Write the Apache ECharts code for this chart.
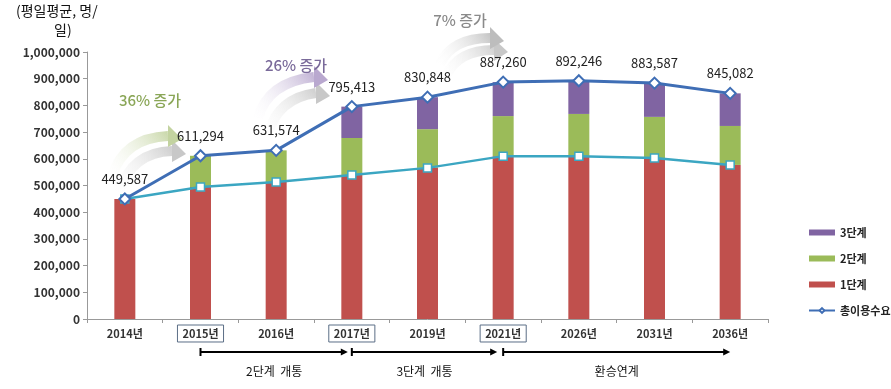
<!DOCTYPE html>
<html>
<head>
<meta charset="utf-8">
<script src="https://cdn.jsdelivr.net/npm/echarts@6/dist/echarts.min.js"></script>
<style>
  html, body { margin: 0; padding: 0; background: #fff; }
  #myChart { width: 891px; height: 389px; }
</style>
</head>
<body>
<div id="myChart"></div>
<script>
var years = ['2014년', '2015년', '2016년', '2017년', '2019년', '2021년', '2026년', '2031년', '2036년'];
var boxedYears = ['2015년', '2017년', '2021년'];
// 단계별 수요
var stage1 = [449587, 494000, 513000, 539000, 566000, 610000, 610000, 603000, 577000];
var stage2 = [0, 117294, 118574, 139000, 145000, 150000, 158000, 154000, 146000];
var stage3 = [0, 0, 0, 117413, 119848, 127260, 124246, 126587, 122082];
var totalDemand = [449587, 611294, 631574, 795413, 830848, 887260, 892246, 883587, 845082];
var yTicks = [0, 100000, 200000, 300000, 400000, 500000, 600000, 700000, 800000, 900000, 1000000];

var font = '"Noto Sans CJK KR", "Noto Sans", sans-serif';
var fmt = function (v) { return String(v).replace(/\B(?=(\d{3})+(?!\d))/g, ','); };

var myChart = echarts.init(document.getElementById('myChart'));

var option = {
    animation: false,
    textStyle: { fontFamily: font },
    grid: { left: 87, right: 123, top: 52, bottom: 70 },
    legend: {
        orient: 'vertical',
        left: 803, top: 222,
        itemWidth: 26, itemHeight: 6, itemGap: 15,
        textStyle: { fontSize: 11, color: '#222', fontWeight: 'bold', fontFamily: font },
        data: [
            { name: '3단계', icon: 'rect' },
            { name: '2단계', icon: 'rect' },
            { name: '1단계', icon: 'rect' },
            { name: '총이용수요' }
        ]
    },
    xAxis: {
        type: 'category',
        data: years,
        axisLine: { lineStyle: { color: '#999' } },
        axisTick: { show: true, length: 4, lineStyle: { color: '#999' } },
        axisLabel: {
            interval: 0,
            margin: 6,
            formatter: function (v) {
                return boxedYears.indexOf(v) >= 0 ? '{box|' + v + '}' : '{n|' + v + '}';
            },
            rich: {
                n: { fontSize: 11, fontWeight: 'bold', color: '#333', padding: [3, 5] },
                box: { fontSize: 11, fontWeight: 'bold', color: '#333', padding: [3, 5],
                       borderColor: '#5b6e86', borderWidth: 1 }
            }
        }
    },
    yAxis: {
        type: 'value',
        min: 0, max: 1000000, interval: 100000,
        splitLine: { show: false },
        axisLine: { show: true, lineStyle: { color: '#999' } },
        axisTick: { show: true, length: 4, lineStyle: { color: '#999' } },
        axisLabel: {
            fontSize: 12, fontWeight: 'bold', color: '#333', margin: 7,
            formatter: function (v) { return yTicks.indexOf(v) >= 0 ? fmt(v) : ''; }
        }
    },
    series: [
        { name: '1단계', type: 'bar', stack: 'a', barWidth: 21, data: stage1,
          itemStyle: { color: '#C0504D' } },
        { name: '2단계', type: 'bar', stack: 'a', data: stage2,
          itemStyle: { color: '#9BBB59' } },
        { name: '3단계', type: 'bar', stack: 'a', data: stage3,
          itemStyle: { color: '#8064A2' } },
        { name: '1단계수요', type: 'line', data: stage1,
          symbol: 'rect', symbolSize: 8,
          lineStyle: { color: '#3BA6C2', width: 2.5 },
          itemStyle: { color: '#fff', borderColor: '#3BA6C2', borderWidth: 1.5 }, z: 5 },
        { name: '총이용수요', type: 'line', data: totalDemand,
          symbol: 'diamond', symbolSize: 11,
          lineStyle: { color: '#3F6EB5', width: 3 },
          itemStyle: { color: '#fff', borderColor: '#3F6EB5', borderWidth: 2 },
          label: { show: true, position: 'top', distance: 7, fontSize: 13, color: '#222',
                   formatter: function (p) { return fmt(p.value); } },
          z: 6 }
    ]
};
myChart.setOption(option);

// 상승 화살표 (곡선 + 삼각형 머리)
function curvedArrow(x1, y1, cx, cy, x2, y2, tipX, tipY, color, width) {
    return [
        { type: 'bezierCurve', shape: { x1: x1, y1: y1, cpx1: cx, cpy1: cy, x2: x2, y2: y2 },
          style: { fill: null, lineWidth: width,
                   stroke: { type: 'linear', x: 0, y: 1, x2: 1, y2: 0,
                             colorStops: [{ offset: 0, color: 'rgba(255,255,255,0)' }, { offset: 1, color: color }] } } },
        { type: 'polygon', shape: { points: [[x2, y2 - 11], [tipX, tipY], [x2, y2 + 11]] },
          style: { fill: color } }
    ];
}

var g = [];
// 단위
g.push({ type: 'text', left: 16, top: 4,
         style: { text: '(평일평균, 명/', fill: '#111', font: '14px ' + font } });
g.push({ type: 'text', left: 54, top: 23,
         style: { text: '일)', fill: '#111', font: '14px ' + font } });

// 증가 표시
g = g.concat(curvedArrow(119, 192, 132, 152, 172, 151, 186, 154, '#c8c8c8', 10));
g = g.concat(curvedArrow(112, 176, 124, 138, 168, 136, 182, 139, '#c3d3a0', 10));
g.push({ type: 'text', x: 150, y: 100,
         style: { text: '36% 증가', font: '500 15px ' + font, fill: '#8AA657', align: 'center', verticalAlign: 'middle' } });

g = g.concat(curvedArrow(268, 134, 278, 98, 316, 93, 330, 96, '#c8c8c8', 10));
g = g.concat(curvedArrow(258, 118, 268, 82, 314, 77, 328, 80, '#b9a8cf', 10));
g.push({ type: 'text', x: 296, y: 65,
         style: { text: '26% 증가', font: '500 15px ' + font, fill: '#7a6a9a', align: 'center', verticalAlign: 'middle' } });

g = g.concat(curvedArrow(446, 76, 458, 50, 494, 50, 508, 52, '#c8c8c8', 10));
g = g.concat(curvedArrow(440, 64, 452, 38, 490, 38, 504, 41, '#bdbdbd', 10));
g.push({ type: 'text', x: 460, y: 20,
         style: { text: '7% 증가', font: '500 15px ' + font, fill: '#8a8a8a', align: 'center', verticalAlign: 'middle' } });

// 하단 단계 구간
var cx = function (i) { return myChart.convertToPixel({ xAxisIndex: 0 }, years[i]); };
var spans = [
    { from: cx(1), to: cx(3) - 4, text: '2단계  개통' },
    { from: cx(3), to: cx(5) - 6, text: '3단계  개통' },
    { from: cx(5), to: cx(8), text: '환승연계' }
];
var lineY = 352;
spans.forEach(function (s) {
    g.push({ type: 'line', shape: { x1: s.from, y1: lineY - 4, x2: s.from, y2: lineY + 4 },
             style: { stroke: '#000', lineWidth: 2 } });
    g.push({ type: 'line', shape: { x1: s.from, y1: lineY, x2: s.to - 5, y2: lineY },
             style: { stroke: '#000', lineWidth: 2 } });
    g.push({ type: 'polygon', shape: { points: [[s.to - 7, lineY - 3.5], [s.to, lineY], [s.to - 7, lineY + 3.5]] },
             style: { fill: '#000' } });
    g.push({ type: 'text', x: (s.from + s.to) / 2, y: 371,
             style: { text: s.text, font: '12px ' + font, fill: '#111', align: 'center', verticalAlign: 'middle' } });
});

myChart.setOption({ graphic: g });

window.onresize = function () { myChart.resize(); };
</script>
</body>
</html>
